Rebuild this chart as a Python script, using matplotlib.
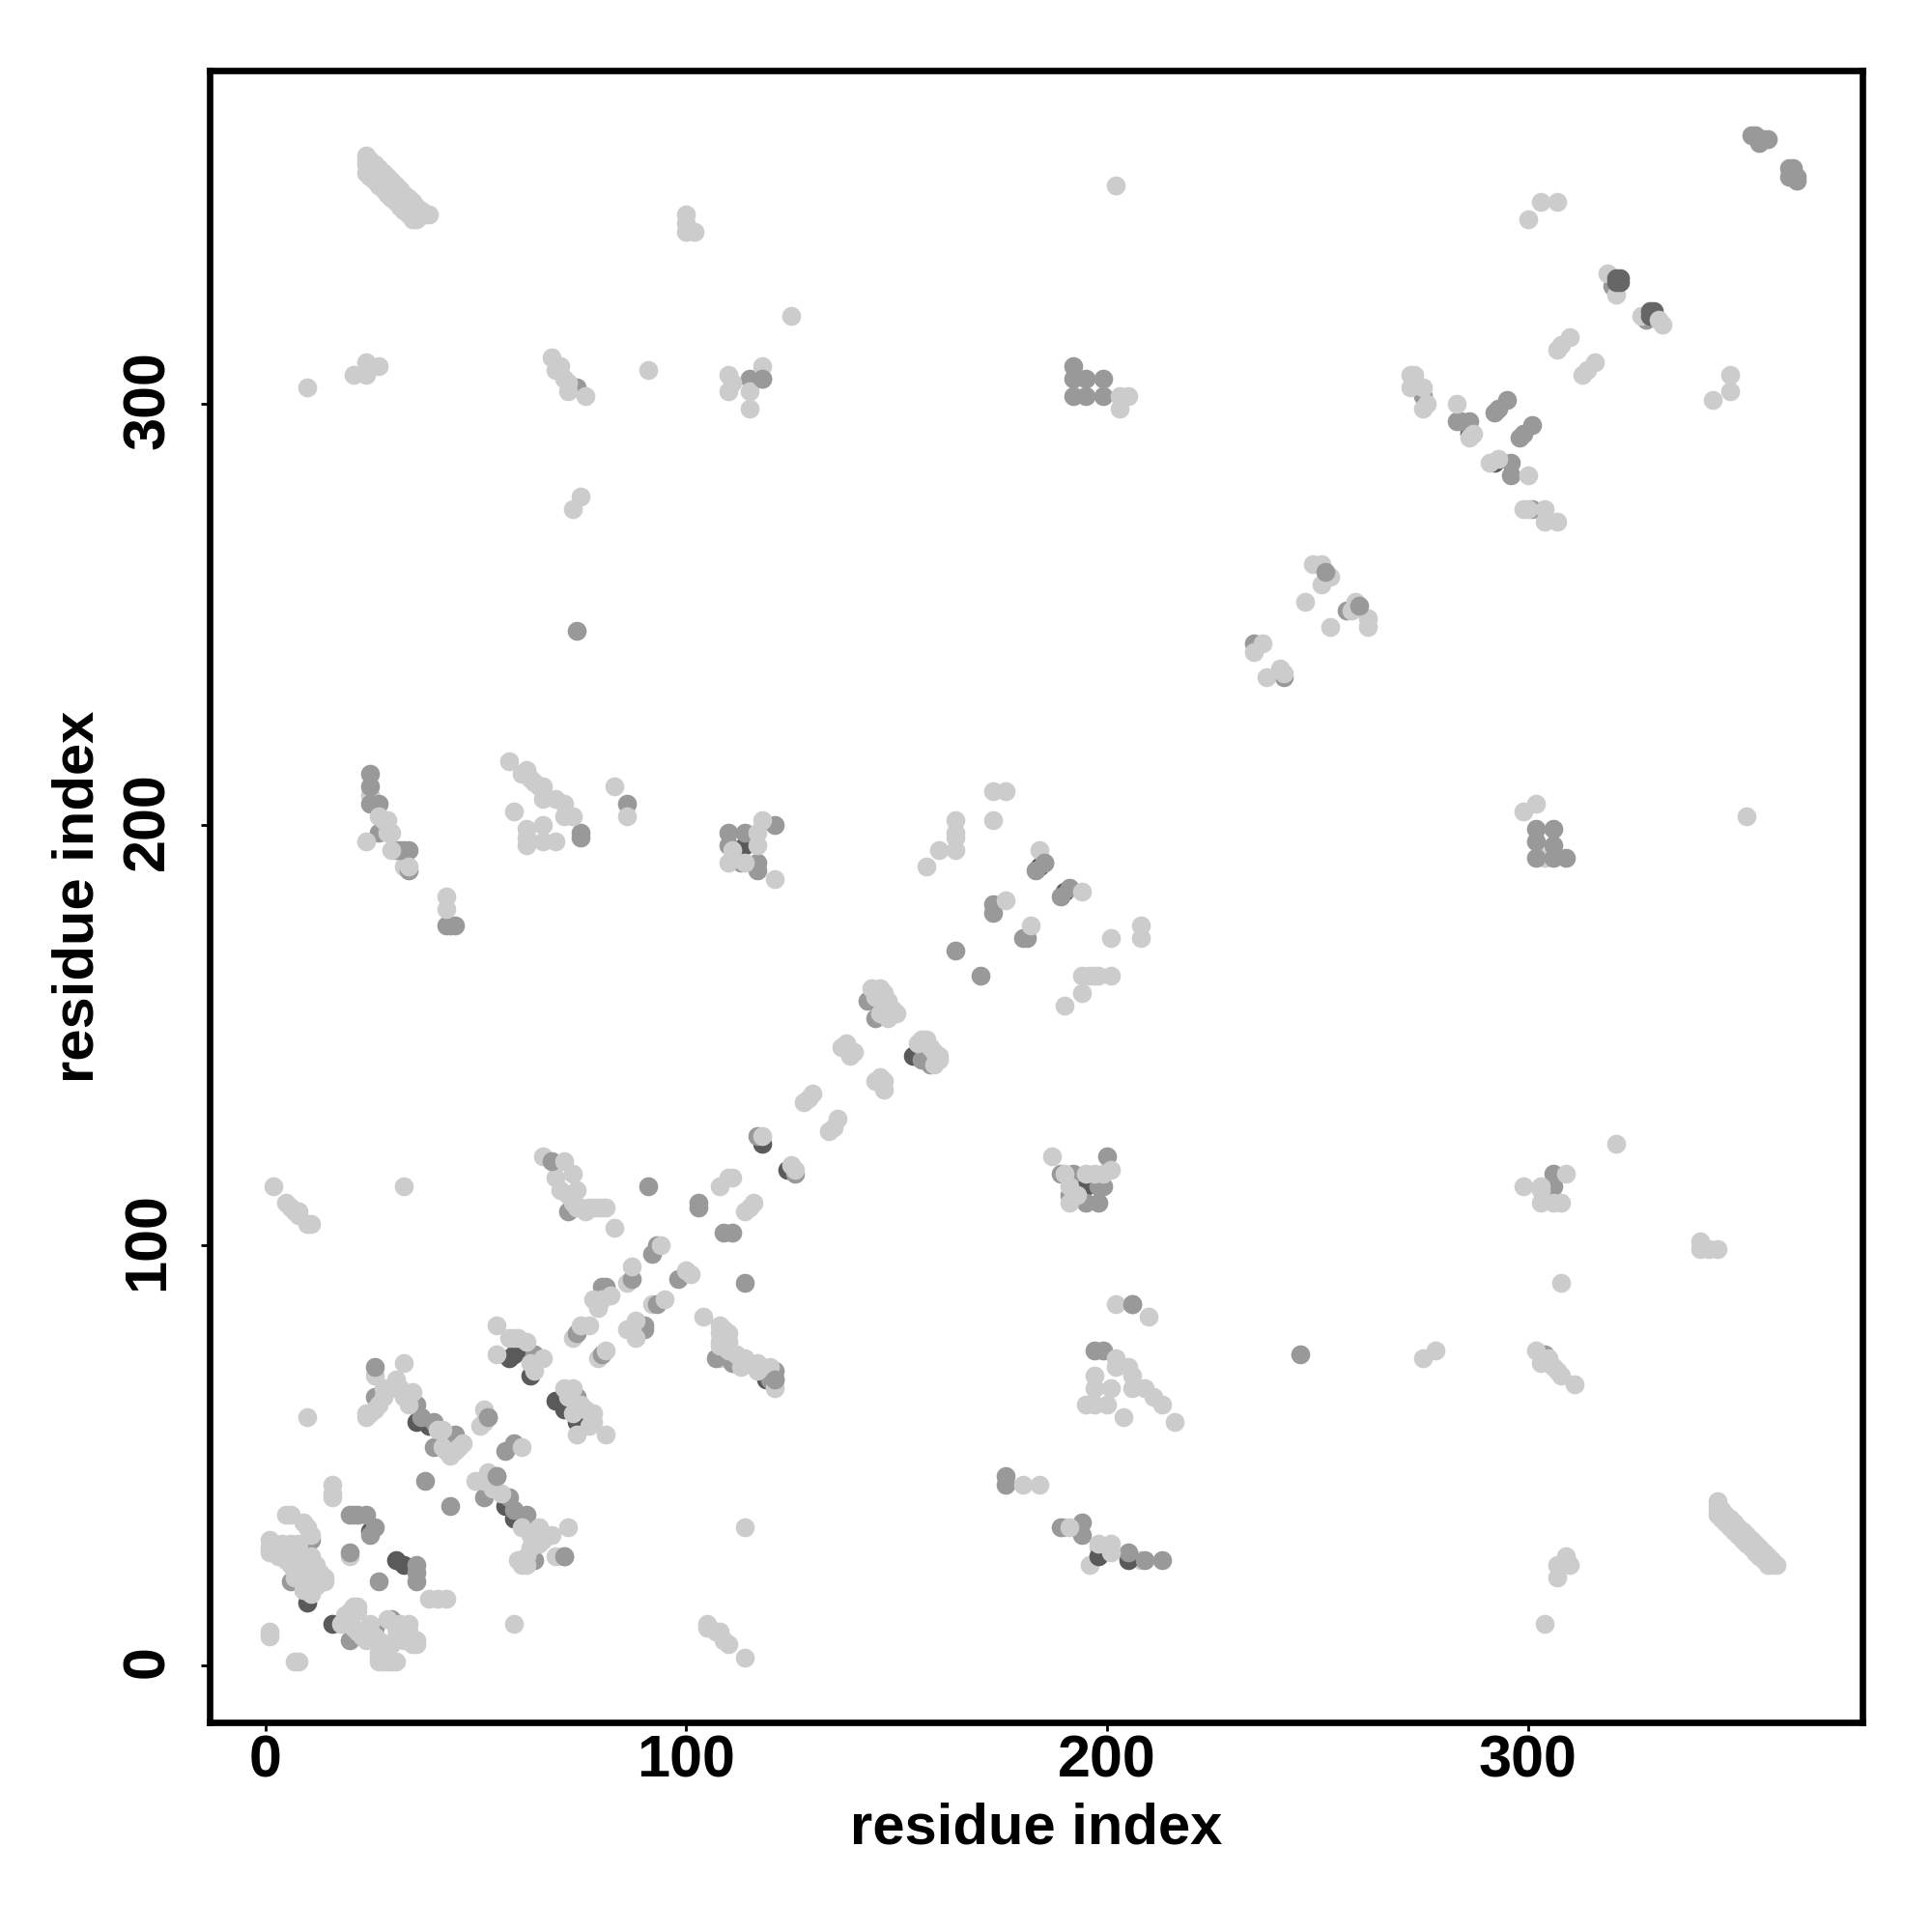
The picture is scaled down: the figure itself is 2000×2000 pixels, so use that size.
import matplotlib
matplotlib.use("Agg")
import matplotlib.pyplot as plt
from matplotlib.transforms import ScaledTranslation

plt.rcParams['font.family'] = ['Liberation Sans', 'DejaVu Sans']

# (x, y) contacts per grey level / drawing layer
light_under = [(26,69),(20,26),(51,57),(86,91),(73,78),(79,73),(92,86),(66,121),(25,207),(108,73),(111,73),
 (24,59),(69,116),(70,113),(190,33),(198,28),(196,24),(208,25),(33,190),(304,192),(345,36),(346,35),(347,34),(348,33),(349,32),(350,31),(351,30),(352,29),(353,28),(354,27),(355,26),(356,25),(357,24),
 (24,355),(25,354),(26,353),(27,352),(28,351),(29,350),(30,349),(31,348),(32,347),(33,346),(34,345),(35,344),(36,344)]
darkest = [(16,10),(10,15),(25,32),(31,25),(33,24),(36,58),(39,57),(57,38),(59,35),(58,73),(60,75),(59,74),(63,69),(69,63),(71,61),(74,58),
 (118,124),(124,118),(146,157),(154,145),(158,144),(184,190),(190,184),(114,195),(195,114),(119,68),(198,26),(205,25),
 (286,293),(292,286)]
mid = [(20,6),(26,9),(30,11),(9,26),(6,20),(11,30),(20,36),(21,36),(22,36),(24,36),(26,33),(25,31),(20,27),(36,24),(36,22),(36,20),(27,20),
 (26,64),(36,62),(37,59),(40,58),(40,52),(45,55),(38,44),(44,38),(53,59),(59,53),(57,51),(55,45),(52,40),(58,40),(59,37),(62,36),(64,25),(71,26),(64,74),(74,64),(74,79),(93,100),(92,98),(87,92),(80,90),(81,90),(93,86),(90,81),(90,80),(80,74),
 (91,114),(103,110),(103,109),(109,103),(111,103),(114,91),(98,92),(117,126),(126,117),(68,120),(72,108),
 (120,68),(121,68),(121,70),(107,73),(111,72),(143,158),(145,154),(156,144),(158,143),
 (183,189),(185,191),(189,183),(191,185),(173,181),(173,179),(180,173),(181,173),(164,170),(170,164),
 (189,117),(192,117),(200,121),(198,114),(199,114),(191,112),(195,110),(198,110),
 (306,117),(306,114),(302,199),(306,199),(302,196),(306,195),(302,192),(306,192),(309,192),
 (25,212),(25,209),(25,205),(27,205),(27,198),(31,194),(32,194),(33,194),(34,194),(34,189),(43,176),(44,176),(45,176),(75,198),(75,197),(86,205),
 (110,198),(110,195),(114,198),(113,191),(121,200),(117,191),(117,189),
 (206,86),(197,75),(199,75),(176,45),(176,43),(189,33),(194,34),(194,31),(205,27),(209,25),(213,25),(246,74),(304,74),
 (283,296),(284,296),(286,296),(295,301),(293,299),(292,298),(301,295),(299,293),(298,292),(296,286),(296,283),(301,275),(257,251),(235,243),(242,235),(320,328),(328,320),
 (353,364),(354,364),(355,362),(356,363),(357,363),(355,363),(362,356),(363,356),(362,354),(363,355),(364,353),(364,354),
 (74,246),(74,304),(115,306),(118,306),(192,309),(192,306),(192,302),(195,306),(195,302),(199,306),(199,302),(275,302)]
light = [(1,7),(1,8),(7,1),(8,1),(18,10),(19,12),(20,13),(21,14),(22,14),(22,13),(20,10),(21,9),(22,8),(23,7),(24,6),(25,8),(26,7),(27,6),(25,10),(28,5),(28,4),(27,3),(27,2),(27,1),(28,1),(29,1),(30,1),(31,1),(29,3),(30,5),(31,7),(31,9),(33,6),(35,5),(34,8),(32,10),(29,11),(34,10),(36,5),(36,6),
 (1,30),(1,28),(1,27),(5,36),(6,36),(9,34),(10,33),(11,31),(4,29),(6,29),(8,29),(7,27),(3,26),(5,25),(6,24),(8,22),(10,20),(9,18),(9,24),(11,26),(12,24),(14,21),(14,20),(13,22),(10,18),(11,17),(7,21),(12,19),
 (16,43),(16,41),(16,40),(39,16),(41,16),(43,16),(59,10),(10,59),(33,72),
 (24,60),(25,60),(26,61),(27,62),(28,64),(28,66),(30,66),(31,68),(32,66),(33,64),(34,62),(35,65),(41,56),(42,56),(42,52),(43,51),(44,50),(45,51),(46,52),(47,53),(52,61),(52,58),(61,52),
 (53,46),(50,44),(52,44),(54,42),(56,41),(61,33),(65,33),(63,31),(68,31),(60,25),(61,24),(62,24),(69,26),(72,33),(63,28),(66,30),(65,29),(62,26),
 (55,81),(58,78),(59,78),(60,78),(62,77),(55,74),(66,73),(63,72),(64,70),
 (71,66),(73,66),(74,55),(81,55),(78,60),(78,58),(77,57),(76,61),(75,62),(72,64),(73,60),
 (75,81),(77,81),(81,75),(78,87),(79,86),(80,87),(82,88),(79,85),(87,95),(95,87),(94,100),(87,80),(88,82),(88,78),(86,80),
 (83,104),(110,116),(108,114),(111,116),(116,110),(115,109),(114,108),(100,94),(101,93),(118,126),(126,118),(125,119),(104,83),
 (108,81),(109,80),(110,79),(108,79),(108,77),(108,76),(110,77),(110,75),(112,74),(114,73),(113,71),(117,72),(117,70),(120,71),(121,66),
 (71,120),(73,117),(74,113),(75,109),(76,108),(77,109),(78,109),(79,109),(80,109),(81,109),(74,109),(73,110),(72,112),
 (137,147),(139,145),(140,146),(138,148),(128,134),(129,135),(130,136),(134,127),(135,128),(136,130),
 (145,139),(147,137),(147,139),(146,140),(144,161),(146,161),(145,159),(147,160),(148,158),(149,156),(150,155),(147,156),(148,154),(146,155),
 (155,148),(156,149),(157,149),(158,147),(159,146),(160,145),(160,144),(159,143),
 (157,190),(160,194),(164,201),(164,198),(164,197),(164,194),(173,208),(176,208),(173,201),(184,194),(194,184),(176,182),(182,176),(201,173),(208,176),(208,173),
 (194,164),(196,164),(197,164),(198,164),(201,164),(194,160),(190,157),
 (187,121),(190,117),(195,117),(197,117),(199,117),(201,118),(191,114),(191,110),(193,112),
 (299,114),(303,114),(303,113),(309,117),(303,110),(306,110),(308,110),(302,205),(299,203),
 (27,202),(28,201),(29,201),(29,198),(30,198),(30,194),(24,196),(34,190),(43,183),(43,180),
 (58,215),(61,212),(62,213),(63,211),(64,210),(65,209),(66,209),(66,206),(69,206),(71,205),(71,202),(73,202),(59,203),(62,199),(66,200),(62,195),(62,197),(66,196),(69,196),(83,209),(86,202),
 (110,191),(111,194),(114,191),(118,201),(117,198),(117,195),(121,187),
 (114,33),(105,10),(105,9),(108,8),(107,8),(109,6),(110,5),(114,2),
 (202,86),(210,83),(202,73),(202,71),(205,71),(206,69),(206,66),(209,66),(211,64),(213,62),(216,58),(197,69),(197,66),(201,66),(195,62),(197,62),(200,62),(204,59),
 (180,43),(184,43),(191,33),(198,29),(201,29),(201,27),(275,73),(278,75),
 (302,75),(303,72),(305,73),(306,71),(307,70),(308,69),(311,67),(321,124),(341,101),(341,99),(343,99),(345,99),(308,91),
 (345,39),(345,38),(346,37),(347,36),(348,35),(349,34),(350,33),(351,32),(352,31),(353,30),(354,29),(355,28),(356,27),(357,26),(358,25),(359,24),(358,24),(345,37),
 (309,26),(307,24),(310,24),(307,21),(304,10),
 (2,114),(5,110),(6,109),(7,108),(8,108),(8,107),(10,105),(11,105),(33,114),
 (272,307),(273,307),(272,304),(275,304),(275,299),(276,300),(283,300),(287,293),(286,292),(293,287),(291,286),(300,283),(300,275),(299,275),(304,275),(304,272),(307,272),
 (316,310),(313,307),(314,308),(310,316),(307,313),(308,314),(259,253),(258,251),(262,249),(262,247),
 (237,243),(235,241),(241,237),(242,236),(238,235),(247,253),(249,262),(251,262),(253,259),(251,257),(253,247),
 (73,275),(75,278),(24,359),(25,358),(26,357),(27,356),(28,355),(29,354),(30,353),(31,352),(32,351),(33,350),(34,349),(35,348),(36,347),(37,346),(38,345),(39,345),(37,345),(24,358),(24,357),
 (100,345),(100,343),(100,341),(102,341),(10,304),(21,307),(24,310),(27,309),(24,307),
 (68,311),(70,309),(69,308),(71,306),(72,305),(72,303),(76,302),(91,308),(110,307),(110,303),(111,305),(118,309),(115,303),(115,299),(125,321),
 (202,352),(203,302),(205,302),(203,299),(300,344),(303,348),(307,348),(319,331),(321,326),(327,321),(344,301),(348,303),(348,307),(352,202)]
mid_over = [(26,71),(53,59),(71,26),(55,45),(185,191),(121,68),(206,86),(118,306),(252,260),(260,252)]
dark_over = [(321,330),(322,329),(321,329),(322,330),(329,322),(330,322),(329,321)]
light_over = [(332,319),(331,320)]

LEVELS = [(light_under, '#cccccc'), (darkest, '#5a5a5a'), (mid, '#999999'), (light, '#cccccc'),
          (mid_over, '#999999'), (dark_over, '#666666'), (light_over, '#cccccc')]

x_ticks = [0, 100, 200, 300]
y_ticks = [0, 100, 200, 300]

fig = plt.figure(figsize=(10, 10), dpi=200)
ax = fig.add_axes([217/2000, 1 - 1783/2000, (1928-217)/2000, (1783-73)/2000])
for pts, col in LEVELS:
    ax.scatter([p[0] for p in pts], [p[1] for p in pts], s=50, c=col, linewidths=0, clip_on=True)
ax.set_xlim(-13.2, 379.5)
ax.set_ylim(-13.5, 379.3)
ax.set_xticks(x_ticks)
ax.set_yticks(y_ticks)
for s in ax.spines.values():
    s.set_linewidth(2.4)
ax.tick_params(width=1.0, length=3.4, labelsize=22)
ax.tick_params(axis='x', pad=1.2)
ax.tick_params(axis='y', pad=9)
for t in ax.get_xticklabels():
    t.set_fontweight('bold')
up = ScaledTranslation(0, 1.4/72, fig.dpi_scale_trans)
for t in ax.get_yticklabels():
    t.set_fontweight('bold')
    t.set_rotation(90)
    t.set_va('center')
    t.set_transform(t.get_transform() + up)
ax.set_xlabel('residue index', fontsize=21.5, fontweight='bold', labelpad=4.7)
ax.set_ylabel('residue index', fontsize=21.5, fontweight='bold', labelpad=6.2)
fig.savefig('out.png', dpi=200, facecolor='white')
